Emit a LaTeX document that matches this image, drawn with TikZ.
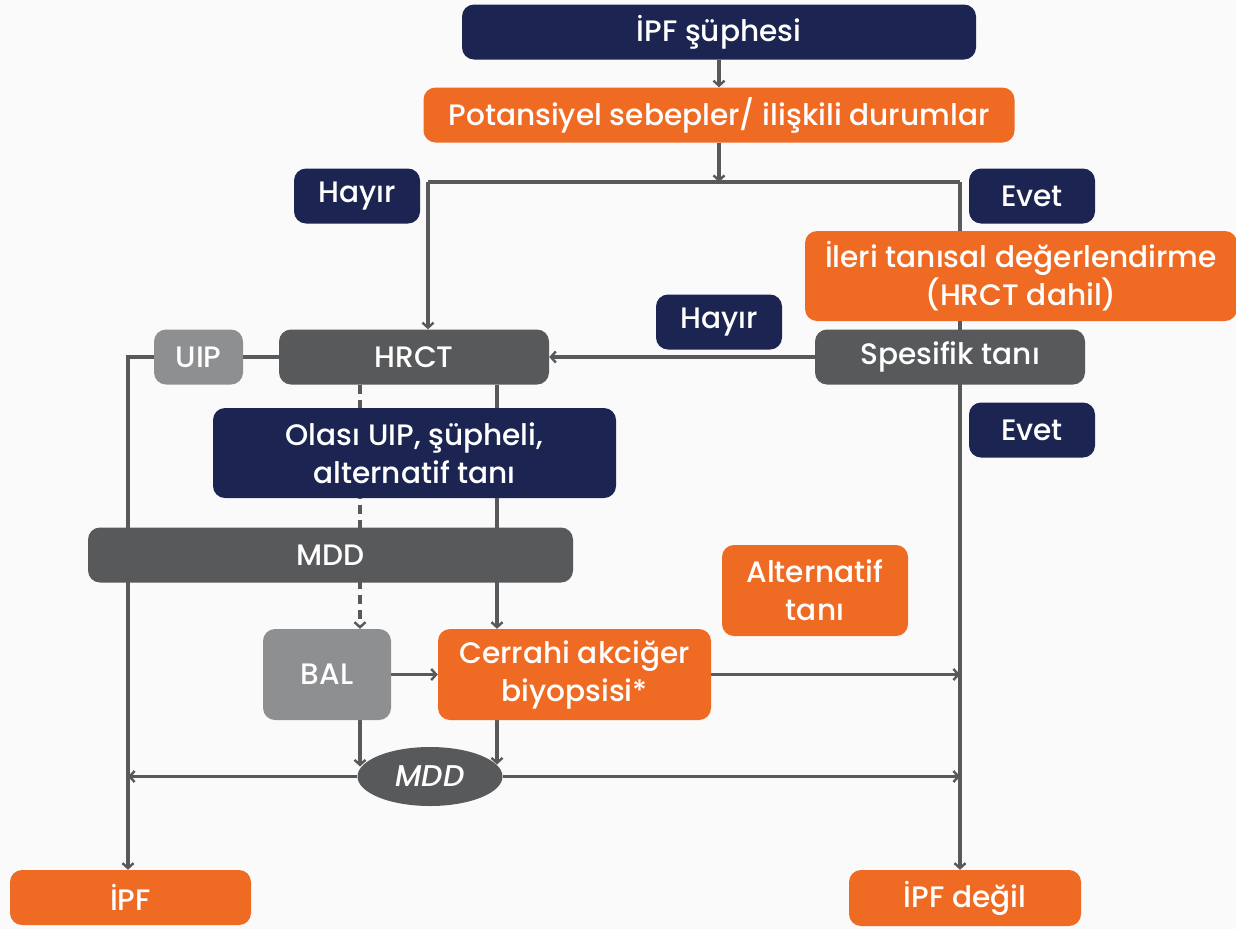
\documentclass[tikz,border=0pt]{standalone}
\usepackage{fontspec}
\setmainfont{Poppins}[UprightFont={* Medium}, ItalicFont={* Medium Italic}]
\usetikzlibrary{arrows.meta,shapes.geometric,backgrounds}
\definecolor{navy}{HTML}{1C2452}
\definecolor{orng}{HTML}{EF6A22}
\definecolor{dgray}{HTML}{58595B}
\definecolor{lgray}{HTML}{8E8F91}
\definecolor{bgc}{HTML}{FAFAFA}
\pgfdeclarelayer{bgl}
\pgfsetlayers{bgl,background,main}
\tikzset{
  box/.style={rounded corners=12pt, text=white, align=center, inner sep=0pt,
    font=\fontsize{29.6}{38}\selectfont},
  nv/.style={box, fill=navy},
  og/.style={box, fill=orng},
  dg/.style={box, fill=dgray},
  lg/.style={box, fill=lgray},
  conn/.style={draw=dgray, line width=3.2pt},
  arr/.style={conn, -{Straight Barb[length=5pt,width=11pt,line width=2.4pt]}},
}
\begin{document}
\begin{tikzpicture}[x=1pt,y=-1pt]
\begin{pgfonlayer}{bgl}
\fill[bgc] (0,0) rectangle (1236,929);
\end{pgfonlayer}
\useasboundingbox (0,0) rectangle (1236,929);

\node[nv, minimum width=514pt, minimum height=55pt] (s1) at (719,32) {İPF şüphesi};
\node[og, minimum width=591pt, minimum height=55pt] (s2) at (719,115) {Potansiyel sebepler/ ilişkili durumlar};
\node[nv, minimum width=126pt, minimum height=55pt] (h1) at (357,196) {Hayır};
\node[nv, minimum width=126pt, minimum height=55pt] (e1) at (1032,196) {Evet};
\node[og, minimum width=432pt, minimum height=90pt] (ileri) at (1021,276) {İleri tanısal değerlendirme\\(HRCT dahil)};
\node[nv, minimum width=126pt, minimum height=55pt] (h2) at (719,322) {Hayır};
\node[dg, minimum width=270pt, minimum height=55pt] (spec) at (950,357) {Spesifik tanı};
\node[dg, minimum width=270pt, minimum height=55pt] (hrct) at (414,357) {HRCT};
\node[lg, minimum width=89pt, minimum height=55pt] (uip) at (198.5,357) {UIP};
\node[nv, minimum width=126pt, minimum height=55pt] (e2) at (1032,430) {Evet};
\node[nv, minimum width=403pt, minimum height=90pt] (olasi) at (414.5,453) {Olası UIP, şüpheli,\\alternatif tanı};
\node[dg, minimum width=485pt, minimum height=55pt] (mdd) at (330.5,555) {MDD};
\node[og, minimum width=186pt, minimum height=91pt] (alt) at (815,590.5) {Alternatif\\tanı};
\node[lg, minimum width=128pt, minimum height=91pt] (bal) at (327,674.5) {BAL};
\node[og, minimum width=273pt, minimum height=91pt] (cerr) at (574.5,674.5) {Cerrahi akciğer\\biyopsisi*};
\node[ellipse, fill=dgray, text=white, inner sep=0pt, minimum width=145pt, minimum height=59pt,
  font=\fontsize{30}{30}\selectfont\itshape] (mdd2) at (430,776.5) {MDD};
\node[og, minimum width=241pt, minimum height=55pt] (ipf) at (130.5,897.5) {İPF};
\node[og, minimum width=232pt, minimum height=56pt] (ipfd) at (965,898) {İPF değil};

\coordinate (j1) at (719,182);
\coordinate (jl) at (428,182);
\coordinate (jr) at (960,182);
\coordinate (lx) at (128,357);
\coordinate (d1) at (360,0);
\coordinate (d2) at (497,0);

\begin{scope}[on background layer]
\draw[arr] (s1) -- (s2);
\draw[arr] (s2) -- (j1);
\draw[conn] (jl) -- (jr);
\draw[arr] (jl) -- (jl |- hrct.north);
\draw[arr] (jr) -- (jr |- ipfd.north);
\draw[arr] (spec.west) -- (hrct.east);
\draw[conn] (hrct.west) -- (uip.east);
\draw[arr] (uip.west) -- (lx) -- (lx |- ipf.north);
\draw[arr, dashed, dash pattern=on 9pt off 6pt] (d1 |- hrct.south) -- (d1 |- bal.north);
\draw[arr] (d2 |- hrct.south) -- (d2 |- cerr.north);
\draw[arr] (bal.east) -- (cerr.west);
\draw[arr] (cerr.east) -- (cerr.east -| jr);
\draw[arr] (d1 |- bal.south) -- ([yshift=10pt]d1 |- mdd2.center);
\draw[arr] (d2 |- cerr.south) -- ([yshift=12pt]d2 |- mdd2.center);
\draw[arr] (mdd2.west) -- (mdd2.west -| lx);
\draw[arr] (mdd2.east) -- (mdd2.east -| jr);
\end{scope}
\end{tikzpicture}
\end{document}
